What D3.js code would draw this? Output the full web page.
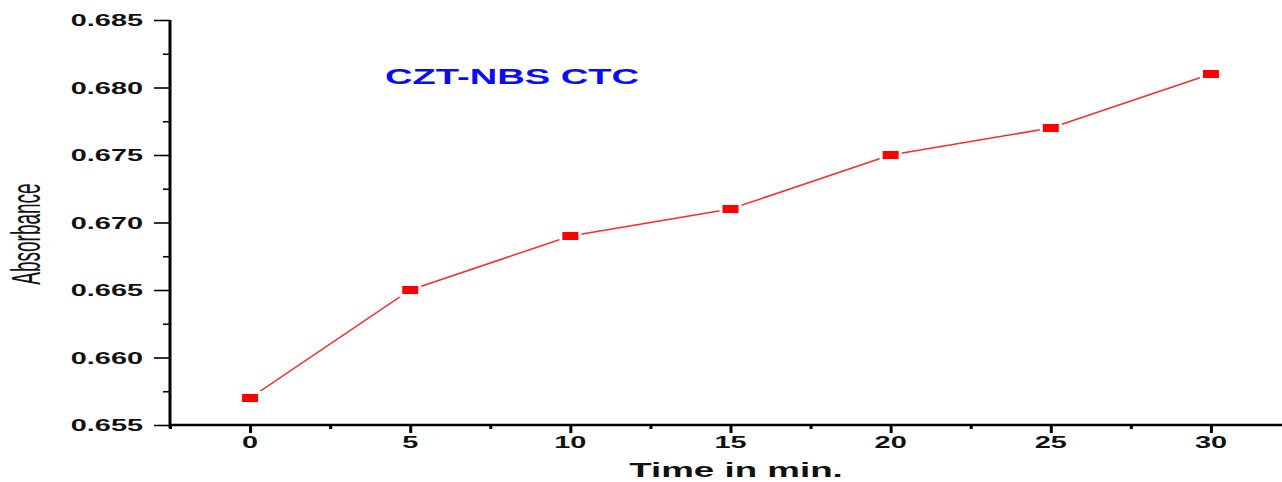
<!DOCTYPE html>
<html>
<head>
<meta charset="utf-8">
<script src="https://cdn.jsdelivr.net/npm/d3@7"></script>
<style>
  html, body { margin: 0; padding: 0; background: #fff; }
  svg { display: block; }
  text { font-family: "Liberation Sans", Arial, sans-serif; }
</style>
</head>
<body>
<svg id="chart" width="1282" height="482"></svg>
<script>
// Absorbance of the CZT-NBS charge-transfer complex over time
const times = [0, 5, 10, 15, 20, 25, 30];
const absorbance = [0.657, 0.665, 0.669, 0.671, 0.675, 0.677, 0.681];
const xTickValues = [0, 5, 10, 15, 20, 25, 30];
const yTickValues = [0.655, 0.660, 0.665, 0.670, 0.675, 0.680, 0.685];
const xMinorValues = [-2.5, 2.5, 7.5, 12.5, 17.5, 22.5, 27.5, 32.5];
const yMinorValues = [0.6575, 0.6625, 0.6675, 0.6725, 0.6775, 0.6825];
const seriesLabel = "CZT-NBS CTC";
const xTitle = "Time in min.";
const yTitle = "Absorbance";

const svg = d3.select("#chart");
const stretch = 1.75; // wide lettering used throughout the figure

const x = d3.scaleLinear().domain([-2.5, 32.5]).range([170, 1291]);
const y = d3.scaleLinear().domain([0.655, 0.685]).range([425, 20]);

// Axes: major and minor ticks
const gx = svg.append("g").attr("transform", `translate(0,${y(0.655)})`);
gx.call(d3.axisBottom(x).tickValues(xTickValues).tickSize(8).tickFormat(""));
const gxm = svg.append("g").attr("transform", `translate(0,${y(0.655)})`);
gxm.call(d3.axisBottom(x).tickValues(xMinorValues).tickSize(4).tickFormat(""));
gxm.select(".domain").remove();
gx.select(".domain").attr("stroke-width", 2.5).attr("d", `M${x(-2.5)},0H1282`);
gx.selectAll(".tick line").attr("stroke-width", 3);
gxm.selectAll(".tick line").attr("stroke-width", 3);

const gy = svg.append("g").attr("transform", `translate(${x(-2.5)},0)`);
gy.call(d3.axisLeft(y).tickValues(yTickValues).tickSize(16).tickFormat(""));
const gym = svg.append("g").attr("transform", `translate(${x(-2.5)},0)`);
gym.call(d3.axisLeft(y).tickValues(yMinorValues).tickSize(7).tickFormat(""));
gym.select(".domain").remove();
gy.select(".domain").attr("stroke-width", 3).attr("d", `M0,${y(0.685)}V${y(0.655) + 3}`);
gy.selectAll(".tick line").attr("stroke-width", 1.6);
gym.selectAll(".tick line").attr("stroke-width", 1.6);
svg.selectAll(".domain, .tick line").attr("stroke", "#000");

// Tick labels
svg.append("g").selectAll("text").data(yTickValues).join("text")
  .attr("transform", d => `translate(143,${y(d) + 6}) scale(${stretch},1)`)
  .attr("text-anchor", "end")
  .attr("font-size", 16.5).attr("font-weight", "bold").attr("fill", "#111")
  .text(d => d3.format(".3f")(d));

svg.append("g").selectAll("text").data(xTickValues).join("text")
  .attr("transform", d => `translate(${x(d)},448) scale(${stretch},1)`)
  .attr("text-anchor", "middle")
  .attr("font-size", 16.5).attr("font-weight", "bold").attr("fill", "#111")
  .text(d => d);

// Axis titles
svg.append("text")
  .attr("transform", `translate(736,477) scale(${stretch},1)`)
  .attr("text-anchor", "middle")
  .attr("font-size", 21).attr("font-weight", "bold").attr("fill", "#111")
  .text(xTitle);

svg.append("text")
  .attr("transform", `translate(40,234) rotate(-90) scale(1,2.1)`)
  .attr("text-anchor", "middle")
  .attr("font-size", 19).attr("fill", "#111")
  .text(yTitle);

// Series label
svg.append("text")
  .attr("transform", `translate(385,84) scale(${stretch},1)`)
  .attr("font-size", 21.8).attr("font-weight", "bold").attr("fill", "#0a0aff")
  .text(seriesLabel);

// Series line and square markers
const pts = times.map((t, i) => [t, absorbance[i]]);
svg.append("path")
  .datum(pts)
  .attr("fill", "none")
  .attr("stroke", "#ff2a2a")
  .attr("stroke-width", 1.5)
  .attr("d", d3.line().x(d => x(d[0])).y(d => y(d[1])));

svg.append("g").selectAll("rect").data(pts).join("rect")
  .attr("x", d => x(d[0]) - 9.5)
  .attr("y", d => y(d[1]) - 5.5)
  .attr("width", 19)
  .attr("height", 11)
  .attr("fill", "#ff0000")
  .attr("stroke", "#fff")
  .attr("stroke-width", 3);
</script>
</body>
</html>
